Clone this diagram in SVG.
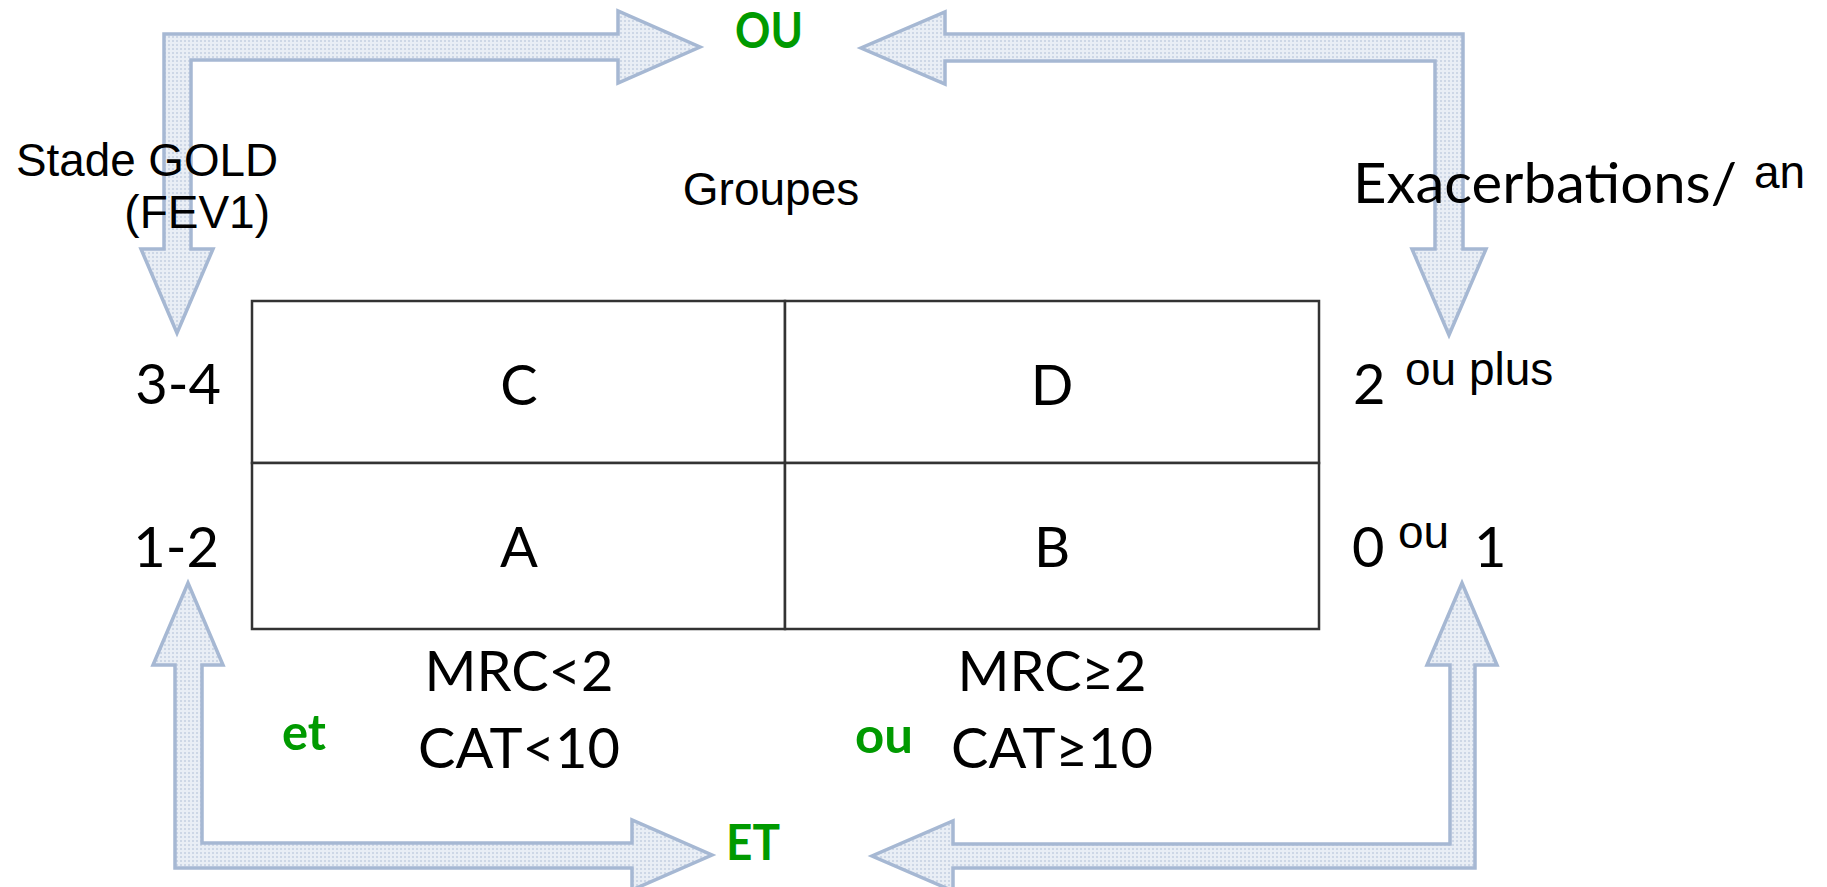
<svg xmlns="http://www.w3.org/2000/svg" width="1827" height="887" viewBox="0 0 1827 887">
<style>
.arrow{fill:url(#dots);stroke:#a6b8d3;stroke-width:3.5;stroke-linejoin:miter}
.cell{fill:#ffffff;stroke:#333333;stroke-width:2.5}
.cal{font-family:Lato,"Open Sans","Liberation Sans",sans-serif;font-size:56px;fill:#000}
.tah{font-family:"Liberation Sans",Arial,sans-serif;font-size:46px;fill:#000}
.grn{font-family:Lato,"Liberation Sans",Arial,sans-serif;font-weight:bold;font-size:50px;fill:#009a00}
.mid{text-anchor:middle}
.end{text-anchor:end}
</style>
<defs>
<pattern id="dots" width="4" height="4" patternUnits="userSpaceOnUse">
<rect width="4" height="4" fill="#e9eef5"/>
<rect width="2" height="2" fill="#cdd7e6"/>
</pattern>
</defs>
<rect width="1827" height="887" fill="#ffffff"/>

<g id="connectors">
<polygon class="arrow" points="164,34 618,34 618,11 700,47 618,83 618,60 191,60 191,249 213,249 177,333 141,249 164,249"/>
<polygon class="arrow" points="1463,34 945,34 945,12 861,48 945,84 945,61 1435,61 1435,249 1412,249 1449,335 1486,249 1463,249"/>
<polygon class="arrow" points="175,868 632,868 632,890 712,855 632,820 632,843 202,843 202,665 223,665 188,583 153,665 175,665"/>
<polygon class="arrow" points="1475,868 953,868 953,891 872,856 953,821 953,844 1450,844 1450,665 1427,665 1462,583 1497,665 1475,665"/>
</g>

<g id="cell-C"><rect class="cell" x="252" y="301" width="533" height="162"/><text class="cal mid" x="519" y="405">C</text></g>
<g id="cell-D"><rect class="cell" x="785" y="301" width="534" height="162"/><text class="cal mid" x="1052" y="405">D</text></g>
<g id="cell-A"><rect class="cell" x="252" y="463" width="533" height="166"/><text class="cal mid" x="519" y="567">A</text></g>
<g id="cell-B"><rect class="cell" x="785" y="463" width="534" height="166"/><text class="cal mid" x="1052" y="567">B</text></g>

<g id="label-gold">
<text class="tah" x="16" y="176" textLength="262" lengthAdjust="spacingAndGlyphs">Stade GOLD</text>
<text class="tah end" x="270" y="228">(FEV1)</text>
</g>
<g id="label-groupes"><text class="tah mid" x="771" y="205" font-size="45">Groupes</text></g>
<g id="label-exac">
<text class="cal" x="1353" y="203" font-size="59" textLength="384" lengthAdjust="spacingAndGlyphs">Exacerbations/</text>
<text class="tah" x="1754" y="188">an</text>
</g>
<g id="label-34"><text class="cal end" x="221" y="404">3-4</text></g>
<g id="label-12"><text class="cal end" x="219" y="567">1-2</text></g>
<g id="label-2plus">
<text class="cal" x="1353" y="404">2</text>
<text class="tah" x="1405" y="385" font-size="48">ou plus</text>
</g>
<g id="label-01">
<text class="cal" x="1352" y="567">0</text>
<text class="tah" x="1398" y="548">ou</text>
<text class="cal" x="1474" y="567">1</text>
</g>
<g id="label-mrc-low">
<text class="cal mid" x="519" y="691">MRC&lt;2</text>
<text class="cal mid" x="519" y="768">CAT&lt;10</text>
</g>
<g id="label-mrc-high">
<text class="cal mid" x="1052" y="691">MRC≥2</text>
<text class="cal mid" x="1052" y="768">CAT≥10</text>
</g>
<g id="label-OU"><text class="grn" x="735" y="48" textLength="68" lengthAdjust="spacingAndGlyphs">OU</text></g>
<g id="label-ET"><text class="grn" x="726" y="860" textLength="54" lengthAdjust="spacingAndGlyphs">ET</text></g>
<g id="label-et"><text class="grn" x="282" y="750" textLength="44" lengthAdjust="spacingAndGlyphs">et</text></g>
<g id="label-ou"><text class="grn" x="855" y="753" textLength="58" lengthAdjust="spacingAndGlyphs">ou</text></g>
</svg>
